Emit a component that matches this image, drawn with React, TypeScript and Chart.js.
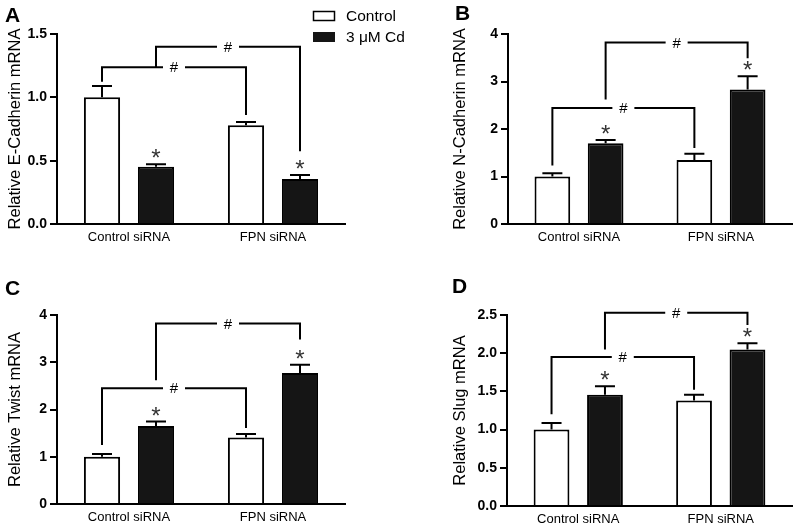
import React, { useEffect, useRef } from 'react';
import { Chart, registerables } from 'chart.js';

Chart.register(...registerables);

const FONT = '"Liberation Sans", Arial, Helvetica, sans-serif';

// ---------------- data ----------------
const categories = ['Control siRNA', 'FPN siRNA'];
const seriesLabels = ['Control', '3 μM Cd'];
const panelLetters = ['A', 'B', 'C', 'D'];
const yTitles = [
  'Relative E-Cadherin mRNA',
  'Relative N-Cadherin mRNA',
  'Relative Twist mRNA',
  'Relative Slug mRNA',
];
const yMaxima = [1.5, 4, 4, 2.5];
const yStepSizes = [0.5, 1, 1, 0.5];
const yDecimals = [1, 0, 0, 1];

// E-Cadherin (A)
const eCadControl = [1.0, 0.78];
const eCadControlErr = [0.09, 0.025];
const eCadCd = [0.452, 0.355];
const eCadCdErr = [0.02, 0.032];
// brackets: [left leg bottom, top, right leg bottom] for Control bars, then Cd bars
const eCadBrackets = [
  [1.123, 1.237, 0.86],
  [1.237, 1.4, 0.575],
];

// N-Cadherin (B)
const nCadControl = [1.0, 1.35];
const nCadControlErr = [0.07, 0.13];
const nCadCd = [1.7, 2.83];
const nCadCdErr = [0.07, 0.28];
const nCadBrackets = [
  [1.23, 2.44, 1.6],
  [2.62, 3.82, 3.49],
];

// Twist (C)
const twistControl = [1.0, 1.41];
const twistControlErr = [0.06, 0.07];
const twistCd = [1.65, 2.77];
const twistCdErr = [0.095, 0.175];
const twistBrackets = [
  [1.25, 2.45, 1.61],
  [2.62, 3.82, 3.48],
];

// Slug (D)
const slugControl = [1.0, 1.38];
const slugControlErr = [0.087, 0.076];
const slugCd = [1.456, 2.05];
const slugCdErr = [0.11, 0.08];
const slugBrackets = [
  [1.2, 1.95, 1.52],
  [2.05, 2.53, 2.37],
];

const panelData = [
  { control: eCadControl, controlErr: eCadControlErr, cd: eCadCd, cdErr: eCadCdErr, brackets: eCadBrackets },
  { control: nCadControl, controlErr: nCadControlErr, cd: nCadCd, cdErr: nCadCdErr, brackets: nCadBrackets },
  { control: twistControl, controlErr: twistControlErr, cd: twistCd, cdErr: twistCdErr, brackets: twistBrackets },
  { control: slugControl, controlErr: slugControlErr, cd: slugCd, cdErr: slugCdErr, brackets: slugBrackets },
];

// ---------------- layout ----------------
const layouts = [
  { left: 0, top: 0, w: 420, h: 260, padLeft: 0, padTop: 34, padRight: 75, yWidth: 57, xHeight: 36, letterX: 5, letterY: 22, legend: true },
  { left: 400, top: 0, w: 400, h: 260, padLeft: 45, padTop: 34, padRight: 8, yWidth: 63, xHeight: 36, letterX: 55, letterY: 20, legend: false },
  { left: 0, top: 260, w: 400, h: 267, padLeft: 0, padTop: 55, padRight: 55, yWidth: 57, xHeight: 23, letterX: 5, letterY: 35, legend: false },
  { left: 400, top: 260, w: 400, h: 267, padLeft: 45, padTop: 55, padRight: 8, yWidth: 62, xHeight: 21, letterX: 52, letterY: 33, legend: false },
];

function overlayPlugin(i: number) {
  const d = panelData[i];
  const L = layouts[i];
  return {
    id: 'overlay' + i,
    afterDatasetsDraw(chart: any) {
      const ctx = chart.ctx;
      const y = chart.scales.y;
      const series = [
        [d.control, d.controlErr],
        [d.cd, d.cdErr],
      ];
      ctx.save();
      ctx.strokeStyle = '#000';
      ctx.lineWidth = 2;
      ctx.lineCap = 'butt';
      ctx.lineJoin = 'miter';
      series.forEach(([vals, errs], s) => {
        const meta = chart.getDatasetMeta(s);
        meta.data.forEach((bar: any, k: number) => {
          const top = y.getPixelForValue(vals[k] + errs[k]);
          ctx.beginPath();
          ctx.moveTo(bar.x, bar.y);
          ctx.lineTo(bar.x, top);
          ctx.moveTo(bar.x - 10, top);
          ctx.lineTo(bar.x + 10, top);
          ctx.stroke();
          if (s === 1) {
            ctx.fillStyle = '#333';
            ctx.font = `24px ${FONT}`;
            ctx.textAlign = 'center';
            ctx.textBaseline = 'alphabetic';
            ctx.fillText('*', bar.x, top - 12 + 14);
          }
        });
      });
      d.brackets.forEach((br, s) => {
        const m = chart.getDatasetMeta(s);
        const xL = m.data[0].x;
        const xR = m.data[1].x;
        const yLB = y.getPixelForValue(br[0]);
        const yT = y.getPixelForValue(br[1]);
        const yRB = y.getPixelForValue(br[2]);
        const xm = (xL + xR) / 2;
        ctx.beginPath();
        ctx.moveTo(xL, yLB);
        ctx.lineTo(xL, yT);
        ctx.lineTo(xm - 11, yT);
        ctx.moveTo(xm + 11, yT);
        ctx.lineTo(xR, yT);
        ctx.lineTo(xR, yRB);
        ctx.stroke();
        ctx.fillStyle = '#000';
        ctx.font = `15px ${FONT}`;
        ctx.textAlign = 'center';
        ctx.textBaseline = 'middle';
        ctx.fillText('#', xm, yT + 1);
      });
      ctx.restore();
    },
    afterDraw(chart: any) {
      const ctx = chart.ctx;
      ctx.save();
      ctx.fillStyle = '#000';
      ctx.font = `bold 21px ${FONT}`;
      ctx.textAlign = 'left';
      ctx.textBaseline = 'alphabetic';
      ctx.fillText(panelLetters[i], L.letterX, L.letterY);
      if (L.legend) {
        ctx.lineWidth = 1.5;
        ctx.strokeStyle = '#000';
        ctx.fillStyle = '#fff';
        ctx.fillRect(313.5, 11.5, 21, 9);
        ctx.strokeRect(313.5, 11.5, 21, 9);
        ctx.fillStyle = '#151515';
        ctx.fillRect(313, 32, 22, 10);
        ctx.fillStyle = '#000';
        ctx.font = `15.5px ${FONT}`;
        ctx.textBaseline = 'middle';
        ctx.fillText(seriesLabels[0], 346, 16.5);
        ctx.fillText(seriesLabels[1], 346, 37.5);
      }
      ctx.restore();
    },
  };
}

function Panel({ idx }: { idx: number }) {
  const ref = useRef<HTMLCanvasElement>(null);
  useEffect(() => {
    const L = layouts[idx];
    const d = panelData[idx];
    const chart = new Chart(ref.current as HTMLCanvasElement, {
      type: 'bar',
      data: {
        labels: categories,
        datasets: [
          {
            label: seriesLabels[0],
            data: d.control,
            backgroundColor: '#ffffff',
            borderColor: '#000',
            borderWidth: 2,
            categoryPercentage: 0.75,
            barPercentage: 0.67,
          },
          {
            label: seriesLabels[1],
            data: d.cd,
            backgroundColor: '#151515',
            borderColor: '#000',
            borderWidth: 2,
            categoryPercentage: 0.75,
            barPercentage: 0.67,
          },
        ],
      },
      options: {
        responsive: false,
        animation: false,
        devicePixelRatio: 1,
        layout: { padding: { left: L.padLeft, top: L.padTop, right: L.padRight, bottom: 0 } },
        plugins: { legend: { display: false }, tooltip: { enabled: false } },
        scales: {
          x: {
            type: 'category',
            offset: true,
            grid: { display: false, drawTicks: false },
            border: { display: true, color: '#000', width: 2 },
            ticks: { color: '#000', padding: 6, maxRotation: 0, font: { family: FONT, size: 13 } },
            afterFit: (s: any) => {
              s.height = L.xHeight;
            },
          },
          y: {
            min: 0,
            max: yMaxima[idx],
            grid: { display: true, drawOnChartArea: false, drawTicks: true, tickLength: 7, color: '#000', lineWidth: 2 },
            border: { display: true, color: '#000', width: 2 },
            ticks: {
              stepSize: yStepSizes[idx],
              color: '#000',
              padding: 3,
              font: { family: FONT, size: 14, weight: 'bold' },
              callback: (v: any) => Number(v).toFixed(yDecimals[idx]),
            },
            title: {
              display: true,
              text: yTitles[idx],
              color: '#000',
              font: { family: FONT, size: 16.5 },
              padding: { top: 6, bottom: 0 },
            },
            afterFit: (s: any) => {
              s.width = L.yWidth;
            },
          },
        },
      },
      plugins: [overlayPlugin(idx)],
    } as any);
    return () => chart.destroy();
  }, [idx]);
  const L = layouts[idx];
  return (
    <canvas
      ref={ref}
      width={L.w}
      height={L.h}
      style={{ position: 'absolute', left: L.left, top: L.top, width: L.w, height: L.h, display: 'block' }}
    />
  );
}

export default function App() {
  return (
    <div
      style={{
        position: 'fixed',
        left: 0,
        top: 0,
        width: 800,
        height: 527,
        background: '#fff',
        overflow: 'hidden',
      }}
    >
      {layouts.map((_, i) => (
        <Panel key={i} idx={i} />
      ))}
    </div>
  );
}
